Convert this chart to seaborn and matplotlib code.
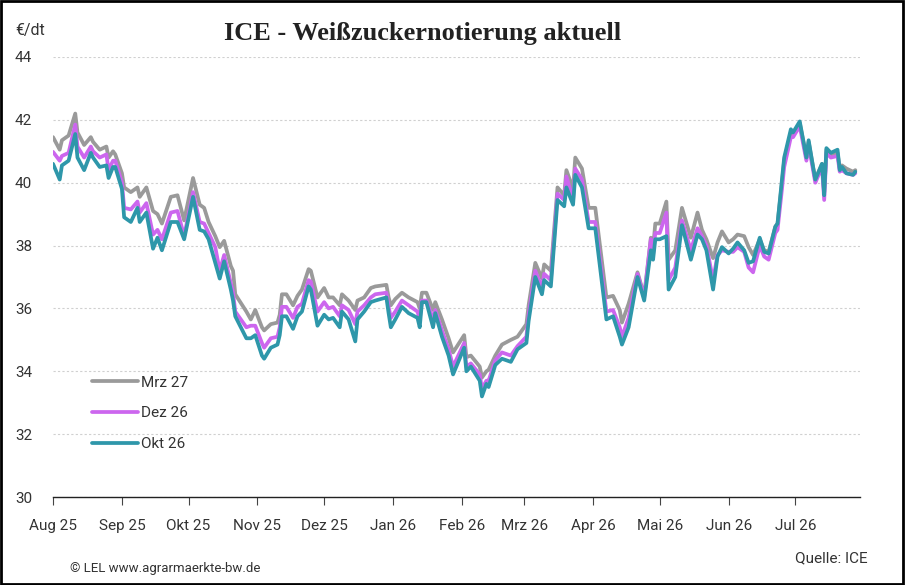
import pandas as pd
import numpy as np
import matplotlib
matplotlib.use("Agg")
import matplotlib.pyplot as plt
import matplotlib.dates as mdates
from matplotlib.patches import Rectangle
import seaborn as sns

# -----------------------------
# DATA (EUR/dt)
# -----------------------------
dates = [
    "2025-08-01", "2025-08-04", "2025-08-05", "2025-08-08", "2025-08-11", "2025-08-12",
    "2025-08-15", "2025-08-18", "2025-08-19", "2025-08-22", "2025-08-25", "2025-08-26",
    "2025-08-28", "2025-08-29", "2025-09-01", "2025-09-02", "2025-09-05", "2025-09-08",
    "2025-09-09", "2025-09-12", "2025-09-15", "2025-09-17", "2025-09-19", "2025-09-23",
    "2025-09-26", "2025-09-29", "2025-10-03", "2025-10-06", "2025-10-08", "2025-10-10",
    "2025-10-13", "2025-10-15", "2025-10-17", "2025-10-20", "2025-10-21", "2025-10-22",
    "2025-10-27", "2025-10-29", "2025-10-31", "2025-11-03", "2025-11-04", "2025-11-07",
    "2025-11-10", "2025-11-11", "2025-11-12", "2025-11-14", "2025-11-17", "2025-11-19",
    "2025-11-21", "2025-11-24", "2025-11-25", "2025-11-28", "2025-12-01", "2025-12-03",
    "2025-12-05", "2025-12-08", "2025-12-09", "2025-12-12", "2025-12-15", "2025-12-16",
    "2025-12-19", "2025-12-22", "2025-12-24", "2025-12-29", "2025-12-30", "2025-12-31",
    "2026-01-02", "2026-01-05", "2026-01-08", "2026-01-12", "2026-01-13", "2026-01-14",
    "2026-01-16", "2026-01-19", "2026-01-20", "2026-01-23", "2026-01-26", "2026-01-28",
    "2026-02-02", "2026-02-03", "2026-02-05", "2026-02-09", "2026-02-10", "2026-02-12",
    "2026-02-13", "2026-02-16", "2026-02-19", "2026-02-23", "2026-02-26", "2026-03-02",
    "2026-03-03", "2026-03-06", "2026-03-09", "2026-03-10", "2026-03-13", "2026-03-16",
    "2026-03-19", "2026-03-20", "2026-03-23", "2026-03-24", "2026-03-27", "2026-03-30",
    "2026-04-02", "2026-04-07", "2026-04-10", "2026-04-13", "2026-04-14", "2026-04-17",
    "2026-04-21", "2026-04-24", "2026-04-27", "2026-04-28", "2026-04-29", "2026-05-01",
    "2026-05-04", "2026-05-05", "2026-05-08", "2026-05-11", "2026-05-15", "2026-05-18",
    "2026-05-20", "2026-05-22", "2026-05-25", "2026-05-27", "2026-05-29", "2026-06-01",
    "2026-06-03", "2026-06-05", "2026-06-08", "2026-06-10", "2026-06-12", "2026-06-15",
    "2026-06-17", "2026-06-19", "2026-06-22", "2026-06-23", "2026-06-25", "2026-06-26",
    "2026-06-29", "2026-06-30", "2026-07-03", "2026-07-06", "2026-07-07", "2026-07-09",
    "2026-07-10", "2026-07-13", "2026-07-14", "2026-07-15", "2026-07-17", "2026-07-20",
    "2026-07-21", "2026-07-22", "2026-07-24", "2026-07-27", "2026-07-28",
]

mrz27 = [
    41.45, 41.05, 41.35, 41.5, 42.2, 41.6, 41.2, 41.45, 41.3, 41.05, 41.15, 40.8,
    41.0, 40.9, 40.3, 39.85, 39.7, 39.85, 39.55, 39.85, 39.1, 39.0, 38.7, 39.55,
    39.6, 38.8, 40.15, 39.3, 39.2, 38.75, 38.3, 37.95, 38.15, 37.35, 37.2, 36.45,
    35.9, 35.65, 35.95, 35.4, 35.3, 35.5, 35.55, 35.8, 36.45, 36.45, 36.1, 36.4,
    36.6, 37.25, 37.2, 36.35, 36.65, 36.35, 36.35, 36.1, 36.45, 36.25, 35.95, 36.25,
    36.35, 36.65, 36.7, 36.75, 36.35, 36.1, 36.3, 36.5, 36.35, 36.2, 36.0, 36.5,
    36.5, 35.95, 36.2, 35.65, 35.05, 34.6, 35.15, 34.45, 34.5, 34.15, 33.8, 34.0,
    34.05, 34.5, 34.85, 35.0, 35.1, 35.5, 36.1, 37.45, 36.95, 37.4, 37.2, 39.85,
    39.6, 40.4, 39.8, 40.8, 40.45, 39.2, 39.2, 36.35, 36.4, 35.95, 35.55, 36.15,
    37.15, 36.4, 38.25, 37.9, 38.7, 38.7, 39.4, 37.55, 37.85, 39.2, 38.25, 39.05,
    38.5, 38.2, 37.6, 38.1, 38.45, 38.1, 38.2, 38.35, 38.3, 37.95, 37.7, 38.2,
    37.85, 37.8, 38.6, 38.7, 40.0, 40.7, 41.6, 41.55, 41.9, 40.8, 41.3, 40.5,
    40.1, 40.6, 39.7, 41.05, 40.9, 40.95, 40.45, 40.55, 40.45, 40.35, 40.4,
]

dez26 = [
    40.98, 40.7, 40.85, 40.95, 41.85, 41.15, 40.8, 41.15, 41.0, 40.8, 40.9, 40.4,
    40.7, 40.7, 40.0, 39.2, 39.15, 39.4, 39.05, 39.35, 38.35, 38.5, 38.2, 39.05,
    39.1, 38.3, 39.7, 38.75, 38.7, 38.4, 37.95, 37.2, 37.7, 36.8, 36.5, 35.9,
    35.4, 35.45, 35.45, 34.9, 34.75, 35.05, 35.1, 35.4, 36.05, 36.05, 35.7, 36.05,
    36.15, 36.9, 36.85, 35.9, 36.2, 36.0, 36.05, 35.75, 36.1, 35.95, 35.5, 35.9,
    36.1, 36.35, 36.45, 36.5, 36.05, 35.7, 35.9, 36.25, 36.1, 35.9, 35.65, 36.25,
    36.25, 35.65, 35.95, 35.3, 34.7, 34.15, 34.9, 34.15, 34.25, 33.9, 33.45, 33.7,
    33.7, 34.35, 34.6, 34.5, 34.8, 35.1, 35.8, 37.2, 36.65, 37.1, 36.9, 39.65,
    39.45, 40.2, 39.45, 40.45, 40.1, 38.75, 38.75, 35.9, 35.95, 35.4, 35.1, 35.7,
    37.1, 36.35, 38.2, 37.7, 38.4, 38.4, 39.05, 36.9, 37.3, 38.8, 37.85, 38.55,
    38.3, 38.0, 36.9, 37.7, 37.85, 37.8, 37.8, 37.95, 37.8, 37.3, 37.15, 38.0,
    37.65, 37.55, 38.4, 38.5, 39.8, 40.5, 41.45, 41.45, 41.8, 40.7, 41.2, 40.4,
    40.0, 40.5, 39.45, 40.95, 40.8, 40.85, 40.35, 40.4, 40.3, 40.25, 40.3,
]

okt26 = [
    40.6, 40.1, 40.55, 40.7, 41.55, 40.8, 40.4, 40.95, 40.8, 40.5, 40.55, 40.15,
    40.5, 40.5, 39.8, 38.9, 38.75, 39.2, 38.75, 39.05, 37.9, 38.25, 37.85, 38.75,
    38.75, 38.2, 39.55, 38.5, 38.45, 38.2, 37.45, 36.95, 37.5, 36.6, 36.25, 35.75,
    35.05, 35.05, 35.15, 34.5, 34.4, 34.75, 34.85, 35.15, 35.75, 35.75, 35.35, 35.75,
    35.9, 36.7, 36.6, 35.45, 35.8, 35.65, 35.7, 35.4, 35.9, 35.65, 34.95, 35.65,
    35.9, 36.2, 36.25, 36.35, 35.85, 35.4, 35.65, 36.05, 35.85, 35.7, 35.4, 36.2,
    36.2, 35.4, 35.85, 35.1, 34.5, 33.9, 34.75, 34.0, 34.15, 33.7, 33.2, 33.6,
    33.5, 34.2, 34.4, 34.3, 34.7, 34.9, 35.6, 37.0, 36.45, 36.9, 36.7, 39.45,
    39.25, 39.85, 39.3, 40.25, 39.85, 38.55, 38.55, 35.65, 35.75, 35.1, 34.85, 35.4,
    37.0, 36.25, 37.85, 37.55, 38.2, 38.2, 38.3, 36.6, 37.0, 38.65, 37.55, 38.35,
    38.2, 37.85, 36.6, 37.65, 37.95, 37.75, 37.9, 38.1, 37.85, 37.45, 37.5, 38.25,
    37.8, 37.75, 38.6, 38.7, 40.1, 40.8, 41.7, 41.6, 41.95, 40.8, 41.35, 40.5,
    40.1, 40.6, 39.6, 41.1, 40.95, 41.05, 40.4, 40.5, 40.3, 40.25, 40.35,
]

series_names = ["Mrz 27", "Dez 26", "Okt 26"]
series_colors = ["#9a9a9a", "#cc66ee", "#2e97aa"]

month_starts = ["2025-08-01", "2025-09-01", "2025-10-01", "2025-11-01", "2025-12-01",
                "2026-01-01", "2026-02-01", "2026-03-01", "2026-04-01", "2026-05-01",
                "2026-06-01", "2026-07-01"]
month_labels = ["Aug 25", "Sep 25", "Okt 25", "Nov 25", "Dez 25", "Jan 26",
                "Feb 26", "Mrz 26", "Apr 26", "Mai 26", "Jun 26", "Jul 26"]

# long table for seaborn
df = pd.DataFrame({
    "Datum": pd.to_datetime(dates * 3),
    "Preis": mrz27 + dez26 + okt26,
    "Kontrakt": [series_names[0]] * len(dates) + [series_names[1]] * len(dates)
                + [series_names[2]] * len(dates),
})

# -----------------------------
# PLOT
# -----------------------------
sns.set_theme(style="white")
plt.rcParams["font.family"] = ["Roboto", "DejaVu Sans"]

fig = plt.figure(figsize=(9.05, 5.85), dpi=100)
ax = fig.add_axes([0.0586, 0.1504, 0.8914, 0.7522])

sns.lineplot(data=df, x="Datum", y="Preis", hue="Kontrakt",
             hue_order=series_names, palette=series_colors,
             linewidth=2.7, ax=ax)

ax.set_ylim(30, 44)
ax.set_yticks(np.arange(30, 45, 2))
ax.set_xlim(pd.Timestamp("2025-08-01"), pd.Timestamp("2026-07-30"))
ax.set_xticks(mdates.date2num(pd.to_datetime(month_starts)))
ax.set_xticklabels(month_labels)
ax.set_xlabel("")
ax.set_ylabel("")

ax.grid(axis="y", color="#d0d0d0", linestyle=(0, (2, 2)), linewidth=0.8)
ax.grid(axis="x", visible=False)
for s in ["top", "right", "left"]:
    ax.spines[s].set_visible(False)
ax.spines["bottom"].set_color("#222222")
ax.spines["bottom"].set_linewidth(1.0)

ax.tick_params(axis="x", bottom=True, length=6, width=0.8, color="#444444",
               labelsize=11, labelcolor="#333333", pad=10)
ax.tick_params(axis="y", left=False, labelsize=11, labelcolor="#333333", pad=9)

leg = ax.legend(loc="upper left", bbox_to_anchor=(0.031, 0.307), frameon=False,
                fontsize=11, handlelength=3.0, handletextpad=0.25,
                labelspacing=1.1, labelcolor="#333333")

# texts
fig.text(0.467, 0.942, "ICE - Weißzuckernotierung aktuell",
         family=["Liberation Serif", "DejaVu Serif"], fontweight="bold",
         fontsize=19, color="#222222", ha="center", va="center")
fig.text(0.017, 0.948, "€/dt", fontsize=11.5, color="#333333", va="center")
fig.text(0.959, 0.046, "Quelle: ICE", fontsize=11, color="#333333",
         ha="right", va="center")
fig.text(0.077, 0.028, "© LEL www.agrarmaerkte-bw.de", fontsize=9.5,
         color="#333333", va="center")

# border round the figure
fig.patches.append(Rectangle((0.001, 0.002), 0.997, 0.996, transform=fig.transFigure,
                             fill=False, edgecolor="black", linewidth=2))

fig.savefig("out.png", dpi=100)
